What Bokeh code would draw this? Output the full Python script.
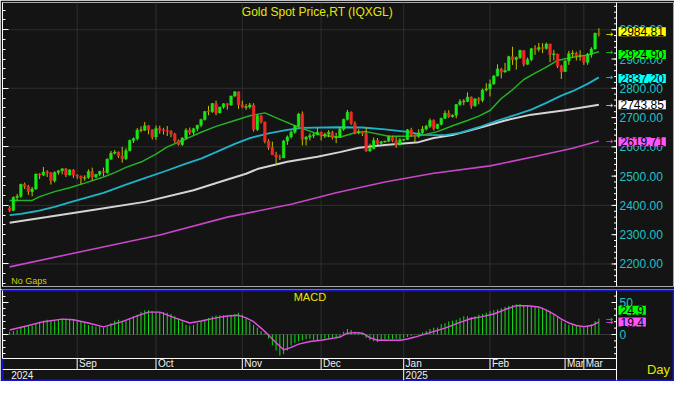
from bokeh.plotting import figure
from bokeh.models import (ColumnDataSource, Range1d, FixedTicker, CustomJSTickFormatter, Label)
from bokeh.layouts import column
from bokeh.embed import file_html
from bokeh.resources import INLINE
from bokeh.core.properties import value

# ---------------- data ----------------
month_labels = ["Sep", "Oct", "Nov", "Dec", "Jan", "Feb", "Mar", "Mar"]
month_idx = [18, 39, 62, 83, 105, 128, 148, 153]
year_labels = ["2024", "2025"]
year_idx = [0, 105]
price_ticks = [2200, 2300, 2400, 2500, 2600, 2700, 2800, 2900, 3000]
price_tick_labels = ["2200.00", "2300.00", "2400.00", "2500.00", "2600.00", "2700.00", "2800.00", "2900.00", "3000.00"]
price_grid = [2200, 2400, 2600, 2800, 3000]
macd_ticks = [0, 50]
macd_tick_labels = ["0", "50"]

opens = [2391, 2383, 2427, 2431, 2472, 2465, 2447, 2456, 2507, 2504, 2514, 2512, 2484, 2512, 2518, 2525, 2504, 2521,
         2503, 2500, 2493, 2495, 2516, 2497, 2506, 2516, 2512, 2558, 2578, 2582, 2569, 2559, 2587, 2622, 2628, 2657, 2657, 2672, 2658,
         2634, 2663, 2657, 2656, 2653, 2644, 2622, 2608, 2630, 2657, 2649, 2662, 2674, 2693, 2721, 2720, 2748, 2716, 2736, 2747, 2743, 2774, 2788,
         2744, 2736, 2736, 2743, 2659, 2706, 2685, 2619, 2598, 2573, 2565, 2562, 2620, 2634, 2650, 2670, 2712, 2626, 2633, 2638, 2641,
         2650, 2639, 2643, 2650, 2632, 2633, 2660, 2694, 2718, 2680, 2648, 2652, 2646, 2586, 2594, 2622, 2612, 2617, 2619, 2634, 2621, 2606,
         2624, 2625, 2658, 2640, 2636, 2648, 2661, 2670, 2690, 2663, 2677, 2697, 2715, 2703, 2708, 2745, 2755, 2755, 2770, 2740, 2764, 2759, 2794,
         2798, 2815, 2842, 2866, 2856, 2861, 2908, 2898, 2905, 2929, 2882, 2898, 2935, 2933, 2939, 2936, 2951, 2915, 2917, 2875,
         2857, 2893, 2918, 2920, 2910, 2910, 2889, 2916, 2934, 2988]
highs = [2398, 2431, 2439, 2474, 2478, 2470, 2463, 2509, 2510, 2531, 2520, 2513, 2517, 2520, 2526, 2528, 2524, 2524,
         2507, 2502, 2503, 2523, 2529, 2507, 2518, 2529, 2560, 2586, 2589, 2584, 2600, 2595, 2625, 2632, 2664, 2670, 2685, 2674, 2660,
         2673, 2672, 2665, 2671, 2657, 2648, 2625, 2633, 2664, 2666, 2665, 2675, 2696, 2722, 2740, 2750, 2758, 2737, 2749, 2749, 2774, 2790, 2789,
         2758, 2746, 2750, 2749, 2711, 2709, 2686, 2626, 2618, 2583, 2573, 2624, 2639, 2656, 2674, 2716, 2721, 2637, 2646, 2648, 2665,
         2652, 2649, 2657, 2655, 2648, 2668, 2696, 2726, 2721, 2687, 2660, 2655, 2664, 2611, 2632, 2630, 2620, 2621, 2639, 2638, 2634, 2630,
         2626, 2661, 2665, 2643, 2660, 2671, 2675, 2697, 2694, 2679, 2700, 2724, 2725, 2711, 2746, 2763, 2763, 2786, 2772, 2765, 2770, 2799, 2817,
         2830, 2845, 2882, 2870, 2887, 2911, 2942, 2909, 2932, 2929, 2905, 2938, 2947, 2955, 2954, 2956, 2952, 2931, 2918, 2880,
         2896, 2928, 2930, 2925, 2930, 2913, 2921, 2940, 2990, 3005]
lows = [2377, 2380, 2417, 2425, 2456, 2436, 2431, 2453, 2490, 2500, 2497, 2471, 2478, 2505, 2506, 2497, 2502, 2494,
        2491, 2472, 2484, 2491, 2485, 2493, 2500, 2500, 2508, 2556, 2574, 2562, 2546, 2555, 2584, 2613, 2622, 2650, 2654, 2643, 2625,
        2624, 2645, 2642, 2637, 2633, 2614, 2604, 2603, 2625, 2641, 2641, 2653, 2667, 2690, 2708, 2716, 2708, 2714, 2730, 2727, 2740, 2770, 2730,
        2732, 2726, 2730, 2652, 2654, 2680, 2612, 2590, 2572, 2537, 2555, 2562, 2607, 2628, 2645, 2668, 2605, 2605, 2622, 2630, 2640,
        2622, 2630, 2633, 2625, 2613, 2631, 2655, 2690, 2675, 2643, 2643, 2637, 2583, 2583, 2591, 2604, 2610, 2614, 2616, 2616, 2597, 2605,
        2620, 2623, 2635, 2615, 2631, 2645, 2656, 2664, 2656, 2660, 2673, 2696, 2699, 2700, 2698, 2740, 2742, 2753, 2730, 2737, 2745, 2752, 2789,
        2772, 2812, 2841, 2834, 2853, 2860, 2880, 2864, 2900, 2875, 2880, 2892, 2914, 2925, 2920, 2932, 2889, 2895, 2869, 2832,
        2856, 2880, 2905, 2895, 2894, 2880, 2880, 2905, 2932, 2977]
closes = [2383, 2427, 2431, 2472, 2465, 2447, 2456, 2507, 2504, 2514, 2512, 2484, 2512, 2518, 2525, 2504, 2521, 2503,
          2500, 2493, 2495, 2516, 2497, 2506, 2516, 2512, 2558, 2578, 2582, 2569, 2559, 2587, 2622, 2628, 2657, 2657, 2672, 2658, 2634,
          2663, 2657, 2656, 2653, 2644, 2622, 2608, 2630, 2657, 2649, 2662, 2674, 2693, 2721, 2720, 2748, 2716, 2736, 2747, 2743, 2774, 2788, 2744,
          2736, 2736, 2743, 2659, 2706, 2685, 2619, 2598, 2573, 2565, 2562, 2620, 2634, 2650, 2670, 2712, 2626, 2633, 2638, 2641, 2650,
          2639, 2643, 2650, 2632, 2633, 2660, 2694, 2718, 2680, 2648, 2652, 2646, 2586, 2594, 2622, 2612, 2617, 2619, 2634, 2621, 2606, 2624,
          2625, 2658, 2640, 2636, 2648, 2661, 2670, 2690, 2663, 2677, 2697, 2715, 2703, 2708, 2745, 2755, 2755, 2770, 2740, 2764, 2759, 2794, 2798,
          2815, 2842, 2866, 2856, 2861, 2908, 2898, 2905, 2929, 2882, 2898, 2935, 2933, 2939, 2936, 2951, 2915, 2917, 2875, 2857,
          2893, 2918, 2920, 2910, 2910, 2889, 2916, 2934, 2988, 2984.81]

# moving averages, read at sample days
ma20_x = [0, 6, 8, 12, 16, 20, 25, 28, 31, 35, 39, 42, 47, 51, 55, 60, 64, 68, 72, 77, 83, 88, 92, 95, 101, 106,
          110, 114, 118, 122, 125, 128, 131, 134, 137, 140, 143, 146, 150, 154, 157]
ma20_y = [2417, 2417, 2430, 2447, 2460, 2476, 2497, 2512, 2530, 2548, 2575, 2600, 2627, 2650, 2670, 2690, 2706, 2716,
          2694, 2667, 2640, 2633, 2648, 2652, 2636, 2636, 2640, 2652, 2672, 2690, 2705, 2724, 2765, 2795, 2830, 2852,
          2872, 2895, 2906, 2914, 2924.90]
ma50_x = [0, 3, 7, 12, 16, 20, 25, 31, 36, 41, 47, 51, 55, 60, 64, 69, 74, 78, 87, 94, 100, 106, 110, 116, 120,
          125, 130, 135, 139, 143, 147, 150, 154, 157]
ma50_y = [2367, 2371, 2380, 2395, 2410, 2425, 2443, 2471, 2493, 2515, 2543, 2560, 2582, 2610, 2630, 2646, 2658, 2665,
          2667, 2666, 2660, 2651, 2641, 2640, 2648, 2667, 2690, 2710, 2727, 2750, 2775, 2790, 2815, 2837.20]
ma100_x = [0, 10, 23, 36, 49, 57, 63, 66, 74, 82, 88, 93, 100, 109, 113, 118, 125, 132, 139, 148, 157]
ma100_y = [2341, 2360, 2386, 2412, 2452, 2484, 2508, 2524, 2549, 2566, 2582, 2597, 2606, 2616, 2630, 2640, 2664,
           2690, 2710, 2725, 2743.85]
ma200_x = [0, 23, 40, 58, 75, 87, 100, 113, 128, 140, 150, 157]
ma200_y = [2190, 2253, 2299, 2360, 2404, 2443, 2480, 2510, 2535, 2567, 2595, 2619.71]

macd = [4.3, 5.4, 7, 10.8, 12, 13.4, 14, 17.7, 20, 21.5,
        23, 23, 21.5, 23.7, 24.7, 24.7, 24.7, 23, 22, 20.4,
        17.7, 15, 14, 12.4, 12.4, 10.8, 12.4, 17.7, 21.5, 23,
        21.5, 21.5, 24, 28.5, 31, 35.5, 37.6, 38, 36.5, 35,
        35, 35, 34, 32, 28.5, 24.7, 20.4, 15, 14, 15,
        17.7, 20.4, 23, 25.8, 28.5, 29.6, 30, 30, 28.5, 31,
        32, 34, 31, 24.7, 20.4, 15, 10.8, 5.4, 1.6, -6.5,
        -17, -25, -33, -30.6, -25, -17, -13, -10.8, -9, -7.5,
        -6.5, -9, -9, -7.5, -6.5, -6.5, -5.4, -6.5, -3.8, 4.3,
        8.6, 7, 4.3, 4.3, -1, -5.4, -9, -10.8, -11.8, -9,
        -8, -7.5, -7.5, -6.5, -7.5, -5.4, -3.8, -2, 0.5, -1,
        3.2, 5.4, 8.6, 10.8, 10.8, 16, 17.7, 20.4, 21.5, 23,
        25.8, 28.5, 28.5, 27, 28.5, 31, 32, 34, 36.5, 38,
        39, 41, 43, 44.6, 46, 47, 48, 44.6, 44.6, 44,
        43, 42, 42, 39, 36.5, 32, 27, 22, 17.7, 15,
        14.5, 13, 11.5, 10.5, 12.4, 16, 21, 24.9]
signal_x = [0, 5, 9, 14, 17, 21, 25, 30, 34, 37, 40, 44, 48, 51, 55, 58, 61, 63, 65, 67, 69, 71, 73, 75, 77, 80,
            83, 86, 88, 90, 92, 94, 96, 98, 101, 104, 106, 108, 112, 116, 120, 123, 126, 129, 132, 135, 138, 141,
            143, 145, 147, 149, 151, 153, 155, 157]
signal_y = [7, 14, 20, 24, 23, 18, 12, 20, 29, 35, 35, 26, 18, 21, 26, 29, 30, 26, 20, 10, -1, -13, -24, -20, -15,
            -11, -9, -6, -4, 2, 3, 2, -5, -9, -9, -9, -7, -4, 3, 10, 19, 25, 28, 32, 39, 45, 45, 43, 38, 32, 24, 18,
            14, 12, 14, 19.4]

# ---------------- styling / geometry ----------------
BG = "#141414"
FONT = "Liberation Sans"
GRID = "#2e2e2e"
AXC = "#1ec3c8"
W, LB = 674, 2
X_LO, X_AX = -1.9, 161.7               # data range of the chart area (axis line at X_AX)
AX_PX = 614                             # chart area width in px
PXU = AX_PX / (X_AX - X_LO)             # px per day
X_HI = X_LO + (W - LB) / PXU            # frame extends over the label column
px = lambda n: n / PXU

n = len(closes)
xs = list(range(n))
body_top, body_bot, body_col = [], [], []
for o, c in zip(opens, closes):
    hi_, lo_ = max(o, c), min(o, c)
    if hi_ - lo_ < 3:
        mid = (hi_ + lo_) / 2
        hi_, lo_ = mid + 1.6, mid - 1.6
    body_top.append(hi_)
    body_bot.append(lo_)
    body_col.append("#18e618" if c > o else ("#f02828" if c < o else "#a0a000"))

src = ColumnDataSource(dict(x=xs, h=highs, l=lows, top=body_top, bottom=body_bot, color=body_col))


def style_left_axis(ax, ticks, minors, bounds=None):
    ax.ticker = FixedTicker(ticks=ticks, minor_ticks=minors)
    ax.formatter = CustomJSTickFormatter(code="return ''")
    ax.major_tick_in, ax.major_tick_out = 6, 0
    ax.minor_tick_in, ax.minor_tick_out = 3, 0
    ax.major_label_standoff = 0
    ax.axis_line_color = "white"
    ax.major_tick_line_color = "white"
    ax.minor_tick_line_color = "white"
    if bounds is not None:
        ax.bounds = bounds


def right_axis(fig, y0, y1, ticks, labels, minors, label_size="12px"):
    fig.segment(x0=X_AX, y0=y0, x1=X_AX, y1=y1, line_color="white", line_width=1)
    fig.segment(x0=X_AX - px(5), y0=ticks, x1=X_AX, y1=ticks, line_color="white", line_width=1)
    fig.segment(x0=X_AX - px(2.5), y0=minors, x1=X_AX, y1=minors, line_color="white", line_width=1)
    fig.text(x=X_AX + px(3), y=ticks, text=labels, text_color=AXC, text_font=value(FONT),
             text_font_size=label_size, text_align="left", text_baseline="middle")


def value_box(fig, y, txt, col):
    fig.add_layout(Label(x=X_AX + px(2), y=y, text=txt, text_color="black", text_font=FONT,
                         text_font_size="12px", text_align="left", text_baseline="middle",
                         background_fill_color=col, padding=dict(left=2, right=2, top=0, bottom=0),
                         level="overlay"))


def arrow(fig, y, col):
    fig.add_layout(Label(x=X_AX - px(7), y=y, text="→", text_color=col, text_font="DejaVu Sans",
                         text_font_size="9px", text_align="center", text_baseline="middle", level="overlay"))


# ---------------- main price panel ----------------
Y_LO, Y_HI = 2123, 3093
p = figure(width=W, height=289, x_range=Range1d(X_LO, X_HI), y_range=Range1d(Y_LO, Y_HI),
           x_axis_location=None, y_axis_location="left", output_backend="svg", toolbar_location=None,
           background_fill_color=BG, border_fill_color=BG, min_border_left=LB, min_border_right=0,
           min_border_top=2, min_border_bottom=3, outline_line_color="#a8a8a8")
p.grid.visible = False
style_left_axis(p.yaxis[0], price_grid, [2133.33 + 33.333 * k for k in range(29)])

p.segment(x0=X_LO, y0=price_grid, x1=X_AX, y1=price_grid, line_color=GRID, line_width=1)
p.segment(x0=month_idx, y0=Y_LO, x1=month_idx, y1=Y_HI, line_color=GRID, line_width=1)

p.line(ma200_x, ma200_y, line_color="#c846c8", line_width=1.6)
p.line(ma100_x, ma100_y, line_color="#d4d4d4", line_width=2)
p.line(ma50_x, ma50_y, line_color="#1eb4c8", line_width=1.8)
p.line(ma20_x, ma20_y, line_color="#22b422", line_width=1.5)

p.segment(x0="x", y0="l", x1="x", y1="h", line_color="#c8be00", line_width=1, source=src)
p.vbar(x="x", width=0.7, top="top", bottom="bottom", fill_color="color", line_color="color",
       line_width=0.5, source=src)

right_axis(p, Y_LO, Y_HI, price_ticks, price_tick_labels, [2140 + 20 * k for k in range(48)])

p.add_layout(Label(x=82, y=3062, text="Gold Spot Price,RT (IQXGL)", text_color="#e6e600",
                   text_font=FONT, text_font_size="12px", text_align="center", text_baseline="middle"))
p.add_layout(Label(x=0.4, y=2141, text="No Gaps", text_color="#d2d200", text_font=FONT,
                   text_font_size="9px", text_align="left", text_baseline="middle"))

boxes = [(closes[-1], 2993, "#ffff00", "2984.81", "#e6e600"),
         (ma20_y[-1], 2915, "#00ff00", "2924.90", "#22c822"),
         (ma50_y[-1], 2833, "#00ffff", "2837.20", "#1ec8d8"),
         (ma100_y[-1], 2743.85, "#ffffff", "2743.85", "#d4d4d4"),
         (ma200_y[-1], 2617, "#ff55ff", "2619.71", "#d050d0")]
for val, ypos, col, txt, acol in boxes:
    value_box(p, ypos, txt, col)
    arrow(p, val, acol)

# ---------------- MACD panel ----------------
M_TOP, M_BOT, T1, T2, T3 = 68.75, -71.9, -37.5, -54.7, -71.9
mfig = figure(width=W, height=92, x_range=p.x_range, y_range=Range1d(M_BOT, M_TOP),
              x_axis_location=None, y_axis_location="left", output_backend="svg", toolbar_location=None,
              background_fill_color=BG, border_fill_color=BG, min_border_left=LB, min_border_right=0,
              min_border_top=1, min_border_bottom=1, outline_line_color="#1414c8", outline_line_width=2)
mfig.grid.visible = False
style_left_axis(mfig.yaxis[0], macd_ticks, [-30, -20, -10, 10, 20, 30, 40, 60], bounds=(T1, M_TOP))

mfig.segment(x0=month_idx, y0=T1, x1=month_idx, y1=M_TOP, line_color=GRID, line_width=1)
mfig.segment(x0=X_LO, y0=0, x1=X_AX, y1=0, line_color="#3c3c3c", line_width=1)
mfig.segment(x0=xs, y0=0, x1=xs, y1=macd, line_color="#10e010", line_width=1)
mfig.line(signal_x, signal_y, line_color="#e650e6", line_width=1.4)

# time axis, drawn in the lower band of the MACD panel
mfig.segment(x0=[X_LO, X_LO], y0=[T1, T2], x1=[X_AX, X_AX], y1=[T1, T2], line_color="white", line_width=1)
mfig.segment(x0=month_idx, y0=T1, x1=month_idx, y1=T2, line_color="white", line_width=1)
mfig.segment(x0=year_idx[1:], y0=T2, x1=year_idx[1:], y1=T3, line_color="white", line_width=1)
mfig.text(x=[m + 0.5 for m in month_idx], y=(T1 + T2) / 2, text=month_labels, text_color="#f0f0f0",
          text_font=value(FONT), text_font_size="10px", text_align="left", text_baseline="middle")
mfig.text(x=[year_idx[0] + 0.4, year_idx[1] + 0.5], y=(T2 + T3) / 2, text=year_labels, text_color="#f0f0f0",
          text_font=value(FONT), text_font_size="10px", text_align="left", text_baseline="middle")

right_axis(mfig, M_BOT, M_TOP, macd_ticks, macd_tick_labels, [-30, -20, -10, 10, 20, 30, 40, 60])

mfig.add_layout(Label(x=80, y=58.6, text="MACD", text_color="#e6e600", text_font=FONT,
                      text_font_size="11px", text_align="center", text_baseline="middle"))
value_box(mfig, 38, "24.9", "#00ff00")
value_box(mfig, 19.4, "19.4", "#ff55ff")
arrow(mfig, macd[-1], "#22c822")
arrow(mfig, signal_y[-1], "#e650e6")
mfig.add_layout(Label(x=X_AX + px(42), y=-54, text="Day", text_color="#e6e600", text_font=FONT,
                      text_font_size="13px", text_align="center", text_baseline="middle", level="overlay"))

layout = column(p, mfig, spacing=0)
open("out.html", "w").write(file_html(layout, INLINE))
